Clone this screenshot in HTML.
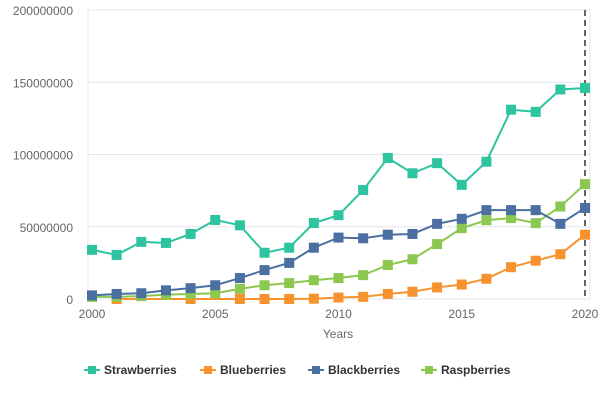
<!DOCTYPE html>
<html><head><meta charset="utf-8"><style>
body{margin:0;background:#fff;font-family:"Liberation Sans",sans-serif}
</style></head><body>
<svg id="s" width="600" height="400" xmlns="http://www.w3.org/2000/svg" font-family="Liberation Sans, sans-serif"></svg>
<script>
const s=document.getElementById('s');
const L=88,R=590,T=10,B=299,X0=92,X1=585;
const xp=y=>X0+(y-2000)*(X1-X0)/20, yp=v=>B-v*(B-T)/200;
let h='';
for(let i=0;i<=4;i++){const y=yp(i*50);h+=`<line x1="${L}" x2="${R}" y1="${y}" y2="${y}" stroke="#e3e6ea"/>`;
h+=`<text x="73" y="${y+5}" text-anchor="end" font-size="12" fill="#666">${i?i*50000000:0}</text>`;}
h+=`<line x1="${L}" x2="${L}" y1="${T}" y2="${B}" stroke="#e3e6ea"/><line x1="${R}" x2="${R}" y1="${T}" y2="${B}" stroke="#e3e6ea"/>`;
[2000,2005,2010,2015,2020].forEach(y=>h+=`<text x="${xp(y)}" y="318" text-anchor="middle" font-size="12" fill="#666">${y}</text>`);
h+=`<text x="338" y="338" text-anchor="middle" font-size="12" fill="#666">Years</text>`;
h+=`<line x1="${X1}" x2="${X1}" y1="${T}" y2="${B}" stroke="#666" stroke-width="2" stroke-dasharray="6,4"/>`;
const S=[
['#f7932e',{2001:0,2004:0,2006:0,2007:0,2008:0,2009:0.2,2010:1,2011:1.5,2012:3.5,2013:5,2014:8,2015:10,2016:14,2017:22,2018:26.5,2019:31,2020:44.5},'Blueberries'],
['#8cc850',[1.5,1.5,2,3,3.5,4,7,9.5,11,13,14.5,16.5,23.5,27.5,38,49,54.5,56,52.5,64,79.5],'Raspberries'],
['#4a6fa0',[2.5,3.5,4,6,7.5,9.5,14.5,20,25,35.5,42.5,42,44.5,45,52,55.5,61.5,61.5,61.5,52,63],'Blackberries'],
['#2ec4a0',[34,30.5,39.5,38.8,45,54.7,51,32,35.5,52.6,58,75.4,97.6,87,94,79,95,131,129.5,145,146],'Strawberries']];
S.forEach(([c,d])=>{let pts=Array.isArray(d)?d.map((v,i)=>[2000+i,v]):Object.entries(d).map(([k,v])=>[+k,v]);
h+=`<polyline fill="none" stroke="${c}" stroke-width="2" points="${pts.map(p=>xp(p[0])+','+yp(p[1])).join(' ')}"/>`;
pts.forEach(p=>h+=`<rect x="${xp(p[0])-5}" y="${yp(p[1])-5}" width="10" height="10" fill="${c}"/>`);});
const leg=[['#2ec4a0','Strawberries',84],['#f7932e','Blueberries',200],['#4a6fa0','Blackberries',308],['#8cc850','Raspberries',421]];
leg.forEach(([c,t,x])=>{h+=`<line x1="${x}" x2="${x+16}" y1="370" y2="370" stroke="${c}" stroke-width="2"/><rect x="${x+4}" y="366" width="8" height="8" fill="${c}"/><text x="${x+20}" y="374" font-size="12" font-weight="bold" fill="#333">${t}</text>`;});
s.innerHTML=h;
</script>
</body></html>
